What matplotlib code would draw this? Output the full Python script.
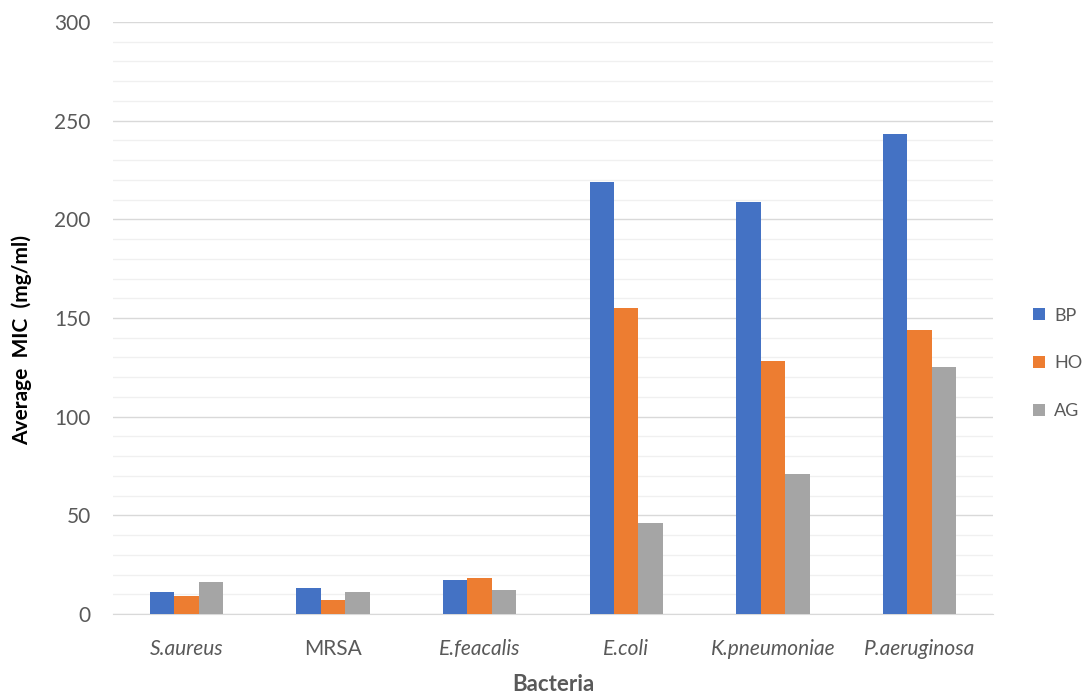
import numpy as np
import matplotlib.pyplot as plt
from matplotlib.ticker import MultipleLocator

# valeurs
bacteria = ["S.aureus", "MRSA", "E.feacalis", "E.coli", "K.pneumoniae", "P.aeruginosa"]
italic = [True, False, True, True, True, True]
bp = [11, 13, 17, 219, 209, 243]
ho = [9, 7, 18, 155, 128, 144]
ag = [16, 11, 12, 46, 71, 125]

series = [("BP", bp, "#4472C4"), ("HO", ho, "#ED7D31"), ("AG", ag, "#A5A5A5")]

plt.rcParams['font.family'] = ['Lato', 'DejaVu Sans']

fig = plt.figure(figsize=(10.91, 6.96), dpi=100)
ax = fig.add_axes([0.1036, 0.1178, 0.8064, 0.8506])

x = np.arange(len(bacteria))
w = 0.167
for i, (name, vals, col) in enumerate(series):
    ax.bar(x + (i - 1) * w, vals, w, color=col, label=name, zorder=3)

ax.set_xlim(-0.5, len(bacteria) - 0.5)
ax.set_ylim(0, 300)
ax.yaxis.set_major_locator(MultipleLocator(50))
ax.yaxis.set_minor_locator(MultipleLocator(10))
ax.grid(axis='y', which='major', color='#d9d9d9', lw=1.0, zorder=0)
ax.grid(axis='y', which='minor', color='#f0f0f0', lw=1.0, zorder=0)
for s in ['top', 'right', 'left']:
    ax.spines[s].set_visible(False)
ax.spines['bottom'].set_color('#d9d9d9')
ax.tick_params(axis='both', which='both', length=0, colors='#595959', labelsize=15)
ax.tick_params(axis='y', pad=16)
ax.tick_params(axis='x', pad=18)

ax.set_xticks(x)
ax.set_xticklabels(bacteria)
for lab, it in zip(ax.get_xticklabels(), italic):
    if it:
        lab.set_style('italic')

ax.set_xlabel("Bacteria", fontsize=16, fontweight='bold', color='#595959', labelpad=11)
ax.set_ylabel("Average  MIC  (mg/ml)", fontsize=15, fontweight='bold', color='black')
ax.yaxis.set_label_coords(-0.092, 0.463)

fig.legend(loc='center left', bbox_to_anchor=(0.947, 0.478), frameon=False,
           fontsize=13, labelcolor='#595959', handlelength=0.65, handleheight=0.65,
           labelspacing=1.75, handletextpad=0.5, borderaxespad=0, borderpad=0)

fig.savefig("out.png", dpi=100)
